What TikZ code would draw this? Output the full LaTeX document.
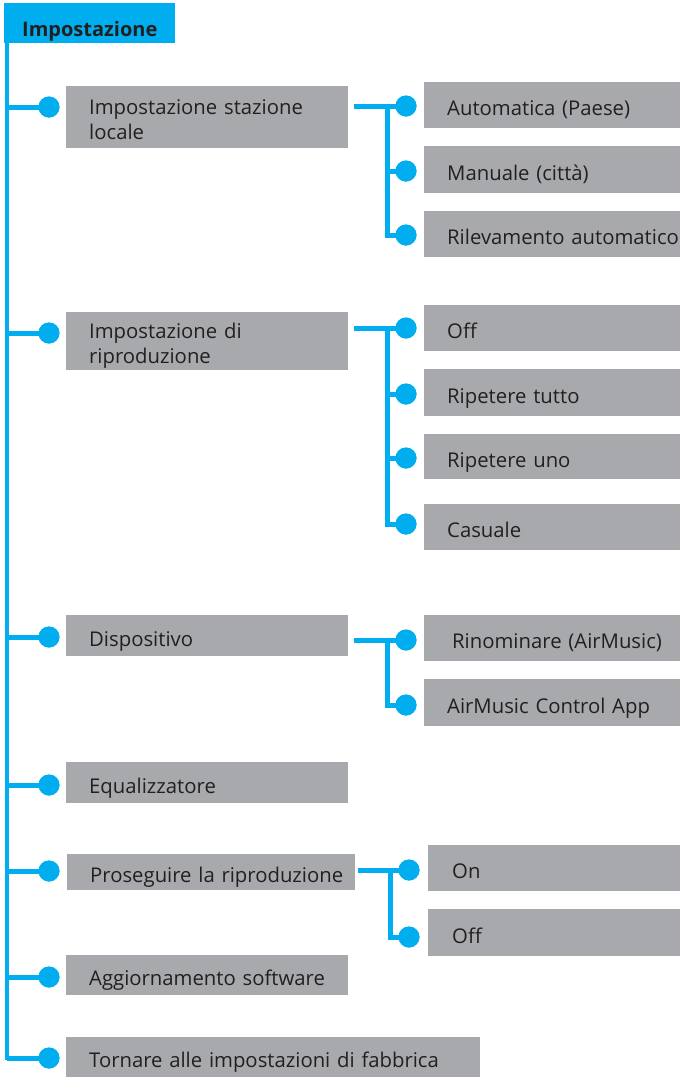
\documentclass[tikz,border=0pt]{standalone}
\usepackage{fontspec}
\setmainfont{Open Sans}
\definecolor{cblue}{HTML}{00AEEF}
\definecolor{cgray}{HTML}{A7A9AC}
\definecolor{ctext}{HTML}{231F20}
\begin{document}
\begin{tikzpicture}[x=1pt,y=-1pt,
  box/.style={fill=cgray, text=ctext, anchor=north west, inner xsep=23pt, inner ysep=0pt,
              align=left, font=\fontsize{20.3}{25}\selectfont, text height=21pt, text depth=0pt},
  twoline/.style={text height=20pt, text depth=25pt},
  conn/.style={draw=cblue, line width=5pt},
  trunk/.style={draw=cblue, line width=4.5pt},
  dot/.style={circle, fill=cblue, minimum size=21pt, inner sep=0pt}]
\useasboundingbox (0,0) rectangle (680,1077);

% header
\node[fill=cblue, text=ctext, anchor=north west, minimum height=40pt, inner xsep=18pt, inner ysep=0pt,
      text width=135pt, align=left, text height=26pt, text depth=0pt,
      font=\fontsize{20}{24}\selectfont\bfseries] (hdr) at (4,3) {Impostazione};

% left boxes
\node[box, twoline, text width=236pt, minimum height=62pt] (b1) at (66,86) {Impostazione stazione\\locale};
\node[box, twoline, text width=236pt, minimum height=58pt] (b2) at (66,312) {Impostazione di\\riproduzione};
\node[box, text width=236pt, minimum height=41pt] (b3) at (66,615) {Dispositivo};
\node[box, text width=236pt, minimum height=41pt] (b4) at (66,762) {Equalizzatore};
\node[box, text width=242pt, minimum height=36pt] (b5) at (67,854) {\mbox{Proseguire la riproduzione}};
\node[box, text width=236pt, minimum height=40pt] (b6) at (66,955) {Aggiornamento software};
\node[box, text width=368pt, minimum height=40pt] (b7) at (66,1037) {\mbox{Tornare alle impostazioni di fabbrica}};

% right boxes
\node[box, text width=260pt, minimum height=46pt] (r11) at (424,82) {Automatica (Paese)};
\node[box, text width=260pt, minimum height=47pt] (r12) at (424,146) {Manuale (città)};
\node[box, text width=260pt, minimum height=46pt] (r13) at (424,211) {\mbox{Rilevamento automatico}};

\node[box, text width=260pt, minimum height=46pt] (r21) at (424,305) {Off};
\node[box, text width=260pt, minimum height=47pt] (r22) at (424,369) {Ripetere tutto};
\node[box, text width=260pt, minimum height=45pt] (r23) at (424,434) {Ripetere uno};
\node[box, text width=260pt, minimum height=46pt] (r24) at (424,504) {Casuale};

\node[box, inner xsep=28pt, text width=250pt, minimum height=46pt] (r31) at (424,615) {Rinominare (AirMusic)};
\node[box, text width=260pt, minimum height=47pt] (r32) at (424,679) {AirMusic Control App};

\node[box, inner xsep=24pt, text width=260pt, minimum height=46pt] (r51) at (428,845) {On};
\node[box, inner xsep=24pt, text width=260pt, minimum height=47pt] (r52) at (428,909) {Off};

% trunk
\coordinate (tt) at (7,43);
\coordinate (tb) at (7,1060);
\draw[trunk] (tt) -- (tb);

% left dots
\node[dot] (l1) at (49,107) {};
\node[dot] (l2) at (49,333) {};
\node[dot] (l3) at (49,637) {};
\node[dot] (l4) at (49,785) {};
\node[dot] (l5) at (49,871) {};
\node[dot] (l6) at (49,977) {};
\node[dot] (l7) at (49,1058) {};
\foreach \i in {1,...,7}{
  \draw[conn] (tt |- l\i) -- (l\i.center);
}

% right dots
\node[dot] (d11) at (406,106) {};
\node[dot] (d12) at (406,171) {};
\node[dot] (d13) at (406,235) {};
\node[dot] (d21) at (406,328) {};
\node[dot] (d22) at (406,394) {};
\node[dot] (d23) at (406,458) {};
\node[dot] (d24) at (406,524) {};
\node[dot] (d31) at (406,640) {};
\node[dot] (d32) at (406,705) {};
\node[dot] (d51) at (409,870) {};
\node[dot] (d52) at (409,937) {};

\coordinate (j1) at (387,106);
\coordinate (j2) at (387,328);
\coordinate (j3) at (387,640);
\coordinate (j5) at (390,870);

\draw[conn, shorten <=6pt] (b1.east |- d11) -- (d11.center);
\draw[conn] (j1) |- (d12.center);
\draw[conn] (j1) |- (d13.center);

\draw[conn, shorten <=6pt] (b2.east |- d21) -- (d21.center);
\draw[conn] (j2) |- (d22.center);
\draw[conn] (j2) |- (d23.center);
\draw[conn] (j2) |- (d24.center);

\draw[conn, shorten <=6pt] (b3.east |- d31) -- (d31.center);
\draw[conn] (j3) |- (d32.center);

\draw[conn, shorten <=3pt] (b5.east |- d51) -- (d51.center);
\draw[conn] (j5) |- (d52.center);

% dots on top of the connectors
\foreach \n in {l1,l2,l3,l4,l5,l6,l7,d11,d12,d13,d21,d22,d23,d24,d31,d32,d51,d52}{
  \fill[cblue] (\n.center) circle (10.5pt);
}
\end{tikzpicture}
\end{document}
